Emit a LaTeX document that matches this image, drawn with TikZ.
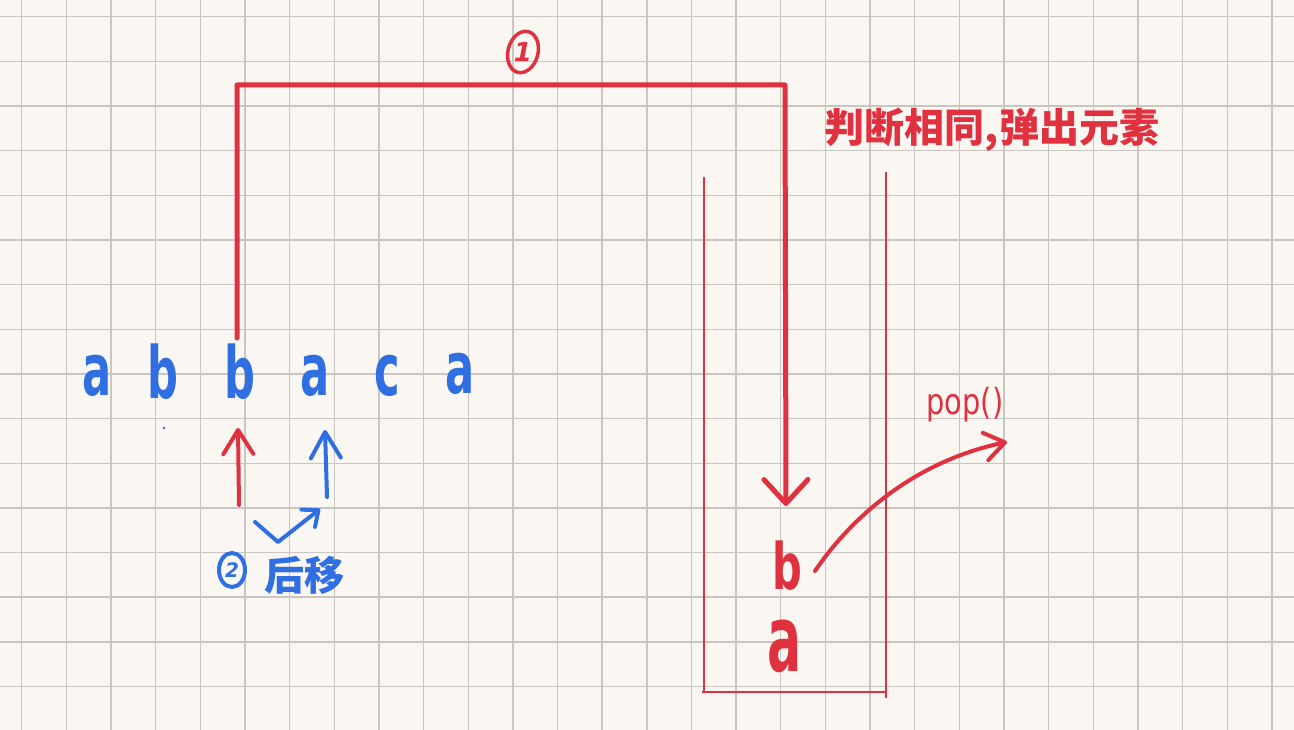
\documentclass[tikz,border=0pt]{standalone}
\usepackage{fontspec}
\setmainfont{DejaVu Sans}
\newfontfamily\cjk{Noto Sans CJK SC}
\usetikzlibrary{arrows.meta,shapes.geometric}
\definecolor{paper}{HTML}{FAF7F2}
\definecolor{gridc}{HTML}{C9C6C1}
\definecolor{pen}{HTML}{DF3140}
\definecolor{ink}{HTML}{2F6FE2}
\begin{document}
\begin{tikzpicture}[x=1pt,y=-1pt,
  gridline/.style={gridc,line width=1.4pt},
  redline/.style={pen,line width=5pt,line cap=round,line join=round},
  redpen/.style={pen,line width=4pt,line cap=round,line join=round},
  thinred/.style={pen,line width=2.5pt},
  bluepen/.style={ink,line width=4pt,line cap=round,line join=round},
  letter/.style={inner sep=0pt,font=\fontsize{72}{72}\selectfont\bfseries},
  rowletter/.style={letter,text=ink},
  stackletter/.style={inner sep=0pt,text=pen},
  note/.style={inner sep=0pt}]
\useasboundingbox (0,0) rectangle (1294,730);
\fill[paper] (0,0) rectangle (1294,730);
% grid
\foreach \k in {0,...,28}
  \draw[gridline] ({21.7+44.65*\k},0) -- ({21.7+44.65*\k},730);
\foreach \k in {0,...,15}
  \draw[gridline] (0,{16.7+44.65*\k}) -- (1294,{16.7+44.65*\k});

% row of letters
\node[rowletter] (r1) at (97,376) {\scalebox{0.6}[1]{a}};
\node[rowletter] (r2) at (163,372) {\scalebox{0.6}[1]{b}};
\node[rowletter] (r3) at (240,372) {\scalebox{0.6}[1]{b}};
\node[rowletter] (r4) at (315,376) {\scalebox{0.6}[1]{a}};
\node[rowletter] (r5) at (387,376) {\scalebox{0.6}[1]{c}};
\node[rowletter] (r6) at (460,374) {\scalebox{0.6}[1]{a}};
\fill[ink] (164,428) circle (1.3);

% stack
\draw[thinred] (704,177) -- (704,692);
\draw[thinred] (702,692) -- (886,692);
\draw[thinred] (886,172) -- (886,698);
\node[stackletter,font=\fontsize{64}{64}\selectfont\bfseries] (sb) at (787,566) {\scalebox{0.65}[1]{b}};
\node[stackletter,font=\fontsize{92}{92}\selectfont\bfseries] (sa) at (785,646) {\scalebox{0.55}[1]{a}};

% bracket arrow (1)
\coordinate (b0) at (237,338);
\coordinate (b1) at (237,85);
\coordinate (b2) at (785,85);
\coordinate (b3) at (786,506);
\draw[redline,-{Straight Barb[length=24pt,width=44pt,round]}] (b0) -- (b1) -- (b2) -- (b3);
\node[draw=pen,line width=3.5pt,ellipse,minimum width=30pt,minimum height=42pt,inner sep=0pt,rotate=-15] (c1) at (523,52) {};
\node[text=pen,font=\fontsize{26}{26}\selectfont\bfseries\itshape] at (c1.center) {1};

% label
\node[note,text=pen,font=\cjk\fontsize{40}{40}\selectfont\bfseries] (lbl) at (992,130) {判断相同,弹出元素};

% pointer arrows
\coordinate (p0) at (239,505);
\coordinate (p1) at (238,428);
\draw[redpen,-{Straight Barb[length=24pt,width=30pt,round]}] (p0) -- (p1);
\coordinate (q0) at (327,497);
\coordinate (q1) at (325,430);
\draw[bluepen,-{Straight Barb[length=26pt,width=30pt,round]}] (q0) -- (q1);
\coordinate (m0) at (255,522);
\coordinate (m1) at (278,542);
\coordinate (m2) at (320,509);
\draw[bluepen,-{Straight Barb[length=13pt,width=22pt,round]}] (m0) -- (m1) -- (m2);

\node[draw=ink,line width=4pt,ellipse,minimum width=26pt,minimum height=34pt,inner sep=0pt] (c2) at (232,570) {};
\node[text=ink,font=\fontsize{20}{20}\selectfont\bfseries\itshape] at (c2.center) {2};
\node[note,text=ink,font=\cjk\fontsize{40}{40}\selectfont\bfseries,anchor=west] (hy) at (264,575) {后移};

% pop arrow
\coordinate (e0) at (815,571);
\coordinate (e1) at (1007,442);
\draw[redpen,-{Straight Barb[length=20pt,width=28pt,round]}] (e0) .. controls (855,512) and (920,460) .. (e1);
\node[note,text=pen,font=\fontsize{36}{36}\selectfont] (pop) at (965,405) {\scalebox{0.8}[1]{pop()}};
\end{tikzpicture}
\end{document}
